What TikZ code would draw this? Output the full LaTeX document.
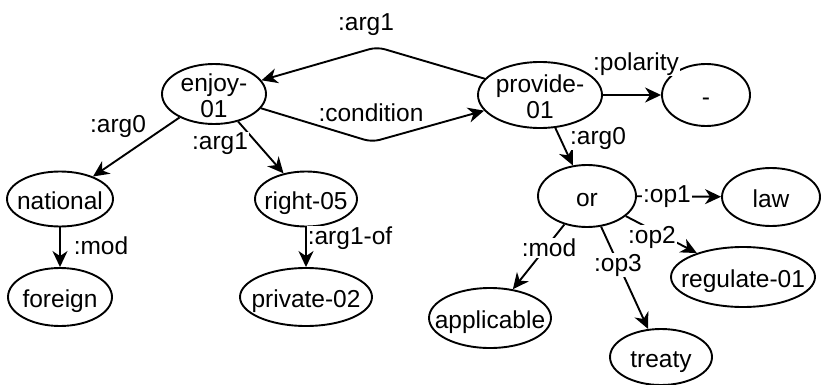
\documentclass[tikz,border=0pt]{standalone}
\usepackage{fontspec}
\setmainfont{Liberation Sans}
\usetikzlibrary{shapes.geometric,arrows.meta}
\newcommand\ctext[1]{\raisebox{-0.47em}[0pt][0pt]{\makebox[0pt]{\begin{tabular}{@{}c@{}}#1\end{tabular}}}}
\begin{document}
\begin{tikzpicture}[x=1pt,y=-1pt,
  every node/.style={font=\fontsize{24.5}{25.5}\selectfont},
  amr/.style={ellipse,draw,line width=1.9pt,inner sep=0pt},
  arr/.style={draw,line width=1.9pt,-{Stealth[length=16pt,width=15pt,inset=5pt]}},
  lbl/.style={fill=white,inner sep=1pt}]
\useasboundingbox (0,0) rectangle (821,385);
% nodes
\node[amr,minimum width=104pt,minimum height=60pt] (enjoy) at (214,94) {\ctext{enjoy-\\[1pt]01}};
\node[amr,minimum width=124pt,minimum height=66pt] (provide) at (540,95) {\ctext{provide-\\[1pt]01}};
\node[amr,minimum width=88pt,minimum height=62pt] (neg) at (706,95) {\ctext{-}};
\node[amr,minimum width=106pt,minimum height=55pt] (national) at (60,199) {\ctext{national}};
\node[amr,minimum width=104pt,minimum height=58pt] (foreign) at (60,297) {\ctext{foreign}};
\node[amr,minimum width=102pt,minimum height=55pt] (right) at (306,199) {\ctext{right-05}};
\node[amr,minimum width=132pt,minimum height=58pt] (private) at (306,297) {\ctext{private-02}};
\node[amr,minimum width=98pt,minimum height=62pt] (or) at (587,196) {\ctext{or}};
\node[amr,minimum width=98pt,minimum height=58pt] (law) at (771,197) {\ctext{law}};
\node[amr,minimum width=144pt,minimum height=60pt] (regulate) at (743,277) {\ctext{regulate-01}};
\node[amr,minimum width=122pt,minimum height=60pt] (applicable) at (490,318) {\ctext{applicable}};
\node[amr,minimum width=102pt,minimum height=56pt] (treaty) at (661,357) {\ctext{treaty}};
% bend points
\coordinate (topbend) at (377,47);
\coordinate (botbend) at (372,142);
% edges
\draw[arr,rounded corners=8pt] (provide) -- (topbend) -- (enjoy);
\draw[arr,rounded corners=8pt] (enjoy) -- (botbend) -- (provide);
\draw[arr] (provide) -- (neg);
\draw[arr] (provide) -- (or);
\draw[arr] (enjoy) -- (national);
\draw[arr] (enjoy) -- (right);
\draw[arr] (national) -- (foreign);
\draw[arr] (right) -- (private);
\draw[arr] (or) -- (law);
\draw[arr] (or) -- (regulate);
\draw[arr] (or) -- (applicable);
\draw[arr] (or) -- (treaty);
% labels
\node[lbl] (l1) at (366,25) {:arg1};
\node[lbl] (l2) at (371,113) {:condition};
\node[lbl] (l3) at (636,64) {:polarity};
\node[lbl] (l4) at (598,138) {:arg0};
\node[lbl] (l5) at (118,126) {:arg0};
\node[lbl] (l6) at (220,144) {:arg1};
\node[lbl] (l7) at (101,246) {:mod};
\node[lbl] (l8) at (350,238) {:arg1-of};
\node[lbl] (l9) at (667,197) {:op1};
\node[lbl] (l10) at (652,237) {:op2};
\node[lbl] (l11) at (549,248) {:mod};
\node[lbl] (l12) at (618,265) {:op3};
\end{tikzpicture}
\end{document}
